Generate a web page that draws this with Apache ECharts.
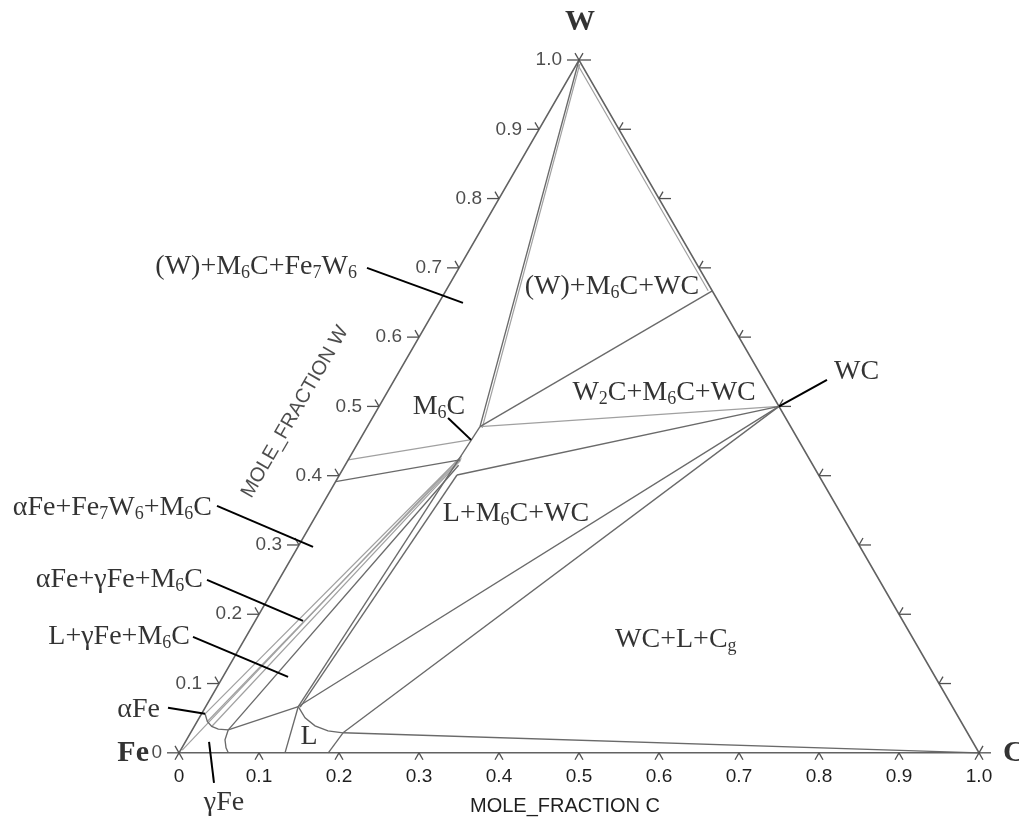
<!DOCTYPE html>
<html><head><meta charset="utf-8">
<script src="https://cdn.jsdelivr.net/npm/echarts@6/dist/echarts.min.js"></script>
<style>html,body{margin:0;padding:0;background:#fff}#chart{width:1019px;height:823px}</style>
</head><body><div id="chart"></div>
<script>
// ---- ternary data: every point is [xC, xW] (mole fraction C, mole fraction W) ----
const FE = [0, 0], C = [1, 0], W = [0, 1];
const WC = [0.5, 0.5];
const W2C = [0.3333, 0.6667];
const M6C_top = [0.1408, 0.4709];
const M6C_mid = [0.1399, 0.4228];
const M6C_low = [0.147, 0.401];
const L_top = [0.1157, 0.0668];
const L_right = [0.1906, 0.0289];
const gammaCorner = [0.045, 0.0332];
const alphaCorner = [0.0044, 0.0563];

const triangleEdges = [[FE, C, W, FE]];
const darkLines = [
  [W, M6C_top],
  [M6C_top, W2C],
  [[0, 0.3915], M6C_mid],
  [M6C_low, WC],
  [L_top, M6C_top],
  [[0.1185, 0.066], M6C_low],
  [gammaCorner, [0.142, 0.415]],
  [gammaCorner, L_top],
  [L_top, [0.1325, 0]],
  [L_top, [0.1323, 0.0505], [0.1505, 0.039], [0.1704, 0.0317], L_right],
  [L_right, [0.1866, 0]],
  [L_right, C],
  [L_top, WC],
  [L_right, WC],
  [alphaCorner, [0.0128, 0.0452], [0.0219, 0.038], [0.032, 0.0342], gammaCorner],
  [gammaCorner, [0.0481, 0.0188], [0.0552, 0.0072], [0.0616, 0]]
];
const lightLines = [
  [[0.004, 0.994], [0.1445, 0.469]],
  [[0, 0.995], [0.328, 0.667]],
  [M6C_top, WC],
  [[0, 0.4228], [0.1395, 0.452]],
  [[0.002, 0.004], [0.139, 0.428]],
  [alphaCorner, [0.139, 0.428]],
  [[0.0128, 0.0452], [0.1405, 0.425]],
  [[0.0219, 0.038], [0.141, 0.422]]
];
const tickValues = [0, 0.1, 0.2, 0.3, 0.4, 0.5, 0.6, 0.7, 0.8, 0.9, 1.0];
const tickLabels = ['0', '0.1', '0.2', '0.3', '0.4', '0.5', '0.6', '0.7', '0.8', '0.9', '1.0'];

// annotation texts and where they sit (ternary coordinates)
const annotations = [
  { text: '(W)+M{s|6}C+Fe{s|7}W{s|6}', pos: [-0.1282, 0.7013], align: 'right' },
  { text: '(W)+M{s|6}C+WC', pos: [0.205, 0.6724], align: 'center' },
  { text: 'M{s|6}C', pos: [0.0753, 0.4993], align: 'center' },
  { text: 'W{s|2}C+M{s|6}C+WC', pos: [0.3466, 0.5195], align: 'center' },
  { text: 'WC', pos: [0.5439, 0.5498], align: 'left' },
  { text: 'L+M{s|6}C+WC', pos: [0.2488, 0.3449], align: 'center' },
  { text: 'αFe+Fe{s|7}W{s|6}+M{s|6}C', pos: [-0.1355, 0.3535], align: 'right' },
  { text: 'αFe+γFe+M{s|6}C', pos: [-0.0948, 0.2496], align: 'right' },
  { text: 'L+γFe+M{s|6}C', pos: [-0.0700, 0.1674], align: 'right' },
  { text: 'αFe', pos: [-0.0548, 0.062], align: 'right' },
  { text: 'γFe', pos: [0.0924, -0.0722], align: 'center' },
  { text: 'L', pos: [0.151, 0.0231], align: 'center' },
  { text: 'WC+L+C{s|g}', pos: [0.5395, 0.1631], align: 'center' }
];
const leaders = [
  [[-0.115, 0.6999], [0.0303, 0.6494]],
  [[-0.1307, 0.3564], [0.0189, 0.2973]],
  [[-0.0898, 0.2496], [0.0598, 0.1905]],
  [[-0.0662, 0.1674], [0.0815, 0.1097]],
  [[-0.0462, 0.0649], [0.0044, 0.0563]],
  [[0.0296, 0.0159], [0.0654, -0.0433]],
  [WC, [0.5409, 0.5382]],
  [[0.0946, 0.4834], [0.1392, 0.4517]]
];
const corners = [
  { text: 'W', pos: [-0.026, 1.0548], align: 'center' },
  { text: 'Fe', pos: [-0.0375, 0], align: 'right' },
  { text: 'C', pos: [1.03, 0], align: 'left' }
];

// ---- conversion to the cartesian plane of the grid ----
const S = Math.sqrt(3) / 2;
const toXY = (p) => [p[0] + p[1] / 2, p[1] * S];

const serif = 'Liberation Serif';
const sans = 'Liberation Sans';

function linesSeries(paths, color, width, z) {
  return {
    type: 'lines', coordinateSystem: 'cartesian2d', polyline: true, silent: true, z: z || 2, clip: false,
    lineStyle: { color: color, width: width, opacity: 1 },
    data: paths.map(p => ({ coords: p.map(toXY) }))
  };
}

// tick marks: edge 0 bottom, 1 left, 2 right
const tickDirs = [
  [[240, 8], [300, 8]],
  [[180, 12], [120, 8]],
  [[0, 12], [60, 8]]
];
const tickData = [];
tickValues.forEach(v => {
  tickData.push(toXY([v, 0]).concat([0]));
  tickData.push(toXY([0, v]).concat([1]));
  tickData.push(toXY([1 - v, v]).concat([2]));
});

const chart = echarts.init(document.getElementById('chart'), null, { renderer: 'canvas' });
chart.setOption({
  animation: false,
  backgroundColor: '#fff',
  textStyle: { fontFamily: sans },
  grid: { left: 179, top: 60, width: 800, height: 800 * S, containLabel: false, outerBoundsMode: 'none' },
  xAxis: {
    type: 'value', min: 0, max: 1, interval: 0.1,
    axisLine: { show: false }, axisTick: { show: false }, splitLine: { show: false },
    axisLabel: { fontSize: 19, color: '#1f1f1f', margin: 14, fontFamily: sans,
      formatter: (v) => tickLabels[Math.round(v * 10)] },
    name: 'MOLE_FRACTION C', nameLocation: 'middle', nameGap: 44,
    nameTextStyle: { fontSize: 20, color: '#1f1f1f', fontFamily: sans, padding: [0, 28, 0, 0] }
  },
  yAxis: { type: 'value', min: 0, max: S, show: false },
  series: [
    linesSeries(lightLines, '#a0a0a0', 1.2, 2),
    linesSeries(darkLines, '#6a6a6a', 1.35, 3),
    linesSeries(triangleEdges, '#626262', 1.6, 4),
    linesSeries(leaders, '#000', 2, 5),
    {
      type: 'custom', coordinateSystem: 'cartesian2d', silent: true, z: 4, clip: false,
      data: tickData,
      renderItem: function (params, api) {
        const p = api.coord([api.value(0), api.value(1)]);
        const dirs = tickDirs[api.value(2)];
        return {
          type: 'group',
          children: dirs.map(d => ({
            type: 'line',
            shape: { x1: p[0], y1: p[1], x2: p[0] + d[1] * Math.cos(d[0] * Math.PI / 180), y2: p[1] - d[1] * Math.sin(d[0] * Math.PI / 180) },
            style: { stroke: '#505050', lineWidth: 1.3 }
          }))
        };
      }
    },
    {
      // W-axis tick labels along the left edge
      type: 'scatter', symbolSize: 0, silent: true, clip: false,
      data: tickValues.map((v, i) => ({ value: toXY([0, v]), label: { formatter: tickLabels[i] } })),
      label: { show: true, position: 'left', distance: 17, fontSize: 19, color: '#1f1f1f', fontFamily: sans }
    },
    {
      // W-axis title
      type: 'scatter', symbolSize: 0, silent: true, clip: false,
      data: [{ value: toXY([-0.101, 0.492]) }],
      label: { show: true, position: 'inside', rotate: 60, formatter: 'MOLE_FRACTION W', fontSize: 20, color: '#1f1f1f', fontFamily: sans }
    },
    {
      type: 'scatter', symbolSize: 0, silent: true, clip: false, z: 6,
      data: annotations.map(a => ({ value: toXY(a.pos), label: { formatter: a.text, align: a.align } })),
      label: {
        show: true, position: 'inside', verticalAlign: 'middle', color: '#000',
        fontFamily: serif, fontSize: 28, lineHeight: 31,
        rich: { s: { fontFamily: serif, fontSize: 18, lineHeight: 18, verticalAlign: 'bottom', color: '#000' } }
      }
    },
    {
      type: 'scatter', symbolSize: 0, silent: true, clip: false, z: 6,
      data: corners.map(a => ({ value: toXY(a.pos), label: { formatter: a.text, align: a.align } })),
      label: { show: true, position: 'inside', verticalAlign: 'middle', color: '#000', fontFamily: serif, fontWeight: 'bold', fontSize: 30 }
    }
  ]
});
</script></body></html>
